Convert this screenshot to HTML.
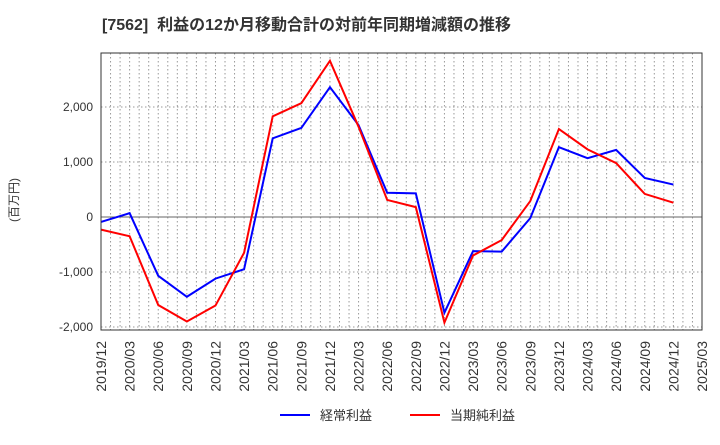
<!DOCTYPE html>
<html><head><meta charset="utf-8"><style>
body{margin:0;background:#fff;font-family:"Liberation Sans","Noto Sans CJK JP",sans-serif;}
</style></head><body>
<svg width="720" height="440" xmlns="http://www.w3.org/2000/svg">
<text x="102" y="30" font-size="16" font-weight="bold" fill="#333" xml:space="preserve">[7562]  利益の12か月移動合計の対前年同期増減額の推移</text>
<text transform="translate(18,200) rotate(-90)" font-size="12" fill="#333" text-anchor="middle">(百万円)</text>
<g id="grid"></g><g id="yt"></g><g id="xt"></g><g id="lines"></g>
<rect x="101" y="53" width="601" height="277" fill="none" stroke="#333" stroke-width="1"/>
<line x1="280" y1="415" x2="310" y2="415" stroke="#0000ff" stroke-width="2"/>
<text x="320" y="420" font-size="13" fill="#333">経常利益</text>
<line x1="410" y1="415" x2="440" y2="415" stroke="#ff0000" stroke-width="2"/>
<text x="450" y="420" font-size="13" fill="#333">当期純利益</text>
</svg>
<script>
const categories=["2019/12","2020/03","2020/06","2020/09","2020/12","2021/03","2021/06","2021/09","2021/12","2022/03","2022/06","2022/09","2022/12","2023/03","2023/06","2023/09","2023/12","2024/03","2024/06","2024/09","2024/12","2025/03"];
const keijo=[-90,70,-1070,-1450,-1120,-950,1430,1620,2360,1670,440,430,-1740,-620,-630,-20,1270,1070,1220,710,590];
const junrieki=[-230,-350,-1600,-1900,-1610,-650,1830,2070,2840,1640,310,180,-1920,-700,-420,290,1600,1230,980,420,260];
const yTicks=[-2000,-1000,0,1000,2000];
const yLabels=["-2,000","-1,000","0","1,000","2,000"];
const NS="http://www.w3.org/2000/svg";
const L=101,R=702,T=53,B=330;
const xs=i=>L+i*(R-L)/(categories.length-1);
const ys=v=>217-v*0.055;
function mk(t,a,p){const e=document.createElementNS(NS,t);for(const k in a)e.setAttribute(k,a[k]);p.appendChild(e);return e;}
const g=document.getElementById('grid');
for(let m=1;m<(categories.length-1)*3;m++){const x=L+m*(R-L)/((categories.length-1)*3);
const ln=mk('line',{x1:x,x2:x,y1:T,y2:B,stroke:'#999','stroke-dasharray':'1.5,2.5'},g);

}
const yt=document.getElementById('yt');
yTicks.forEach((v,i)=>{const y=ys(v);
const ln=mk('line',{x1:L,x2:R,y1:y,y2:y,stroke:v===0?'#666':'#999','stroke-dasharray':v===0?'':'1.5,2.5'},g);


const t=mk('text',{x:L-8,y:y+4,'font-size':12,fill:'#333','text-anchor':'end'},yt);t.textContent=yLabels[i];

});
const xt=document.getElementById('xt');
categories.forEach((c,i)=>{const x=xs(i);
const t=mk('text',{transform:`translate(${x+5},341) rotate(-90)`,'font-size':14,fill:'#333','text-anchor':'end'},xt);t.textContent=c;

});
const lg=document.getElementById('lines');
[[keijo,'#0000ff','series-keijo-line'],[junrieki,'#ff0000','series-junrieki-line']].forEach(([d,c,n])=>{
const p=mk('polyline',{points:d.map((v,i)=>xs(i)+','+ys(v)).join(' '),fill:'none',stroke:c,'stroke-width':2},lg);

});
</script>
</body></html>
